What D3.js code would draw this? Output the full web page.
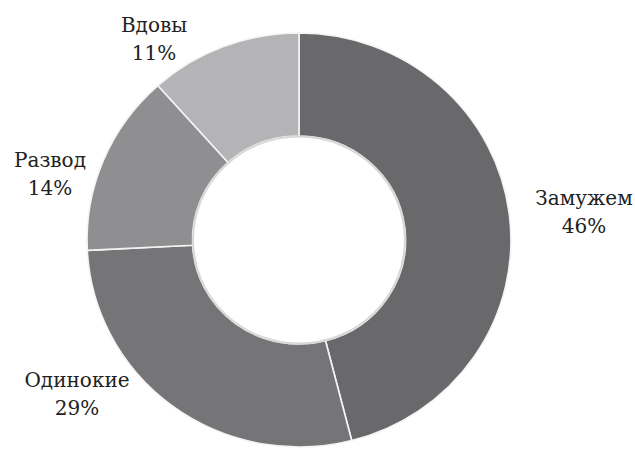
<!DOCTYPE html>
<html>
<head>
<meta charset="utf-8">
<script src="https://cdn.jsdelivr.net/npm/d3@7"></script>
<style>
  html, body { margin: 0; padding: 0; background: #ffffff; }
  svg { display: block; }
  text.lbl { font-family: "DejaVu Serif", serif; }
</style>
</head>
<body>
<svg id="chart" width="635" height="453"></svg>
<script>
// Data
const categories = ["Замужем", "Одинокие", "Развод", "Вдовы"];
const values = [46, 28.2, 14.2, 11.6];
const percentLabels = ["46%", "29%", "14%", "11%"];
const colors = ["#69696b", "#757577", "#8f8f91", "#b4b4b6"];

// Layout
const cx = 299, cy = 240;
const outerR = 207, innerR = 104;
const sx = 1.024; // slight horizontal stretch seen in the reference
// label offsets from the centre (text centre of the two-line label)
const labelOffsets = [[285, -22], [-222, 160], [-249, -60], [-145, -195]];

const svg = d3.select("#chart");
const g = svg.append("g").attr("transform", `translate(${cx},${cy})`);
const ring = g.append("g").attr("transform", `scale(${sx},1)`);

const pie = d3.pie().sort(null).value(d => d.value);
const arc = d3.arc().innerRadius(innerR).outerRadius(outerR);
const data = categories.map((c, i) => ({ name: c, value: values[i], pct: percentLabels[i], color: colors[i], off: labelOffsets[i] }));

ring.selectAll("path.slice")
  .data(pie(data))
  .join("path")
  .attr("class", "slice")
  .attr("d", arc)
  .attr("fill", d => d.data.color)
  .attr("stroke", "#f4f4f4")
  .attr("stroke-width", 1.6)
  .attr("stroke-linejoin", "round");

// subtle inner shadow ring
ring.append("circle")
  .attr("r", innerR - 0.5)
  .attr("fill", "none")
  .attr("stroke", "#d8d8d8")
  .attr("stroke-width", 2);

const labels = g.selectAll("text.lbl")
  .data(data)
  .join("text")
  .attr("class", "lbl")
  .attr("text-anchor", "middle")
  .attr("font-size", 20)
  .attr("fill", "#222222")
  .attr("transform", d => `translate(${d.off[0]},${d.off[1]})`);

labels.append("tspan").attr("x", 0).attr("dy", -13).text(d => d.name);
labels.append("tspan").attr("x", 0).attr("dy", 28).text(d => d.pct);
</script>
</body>
</html>
